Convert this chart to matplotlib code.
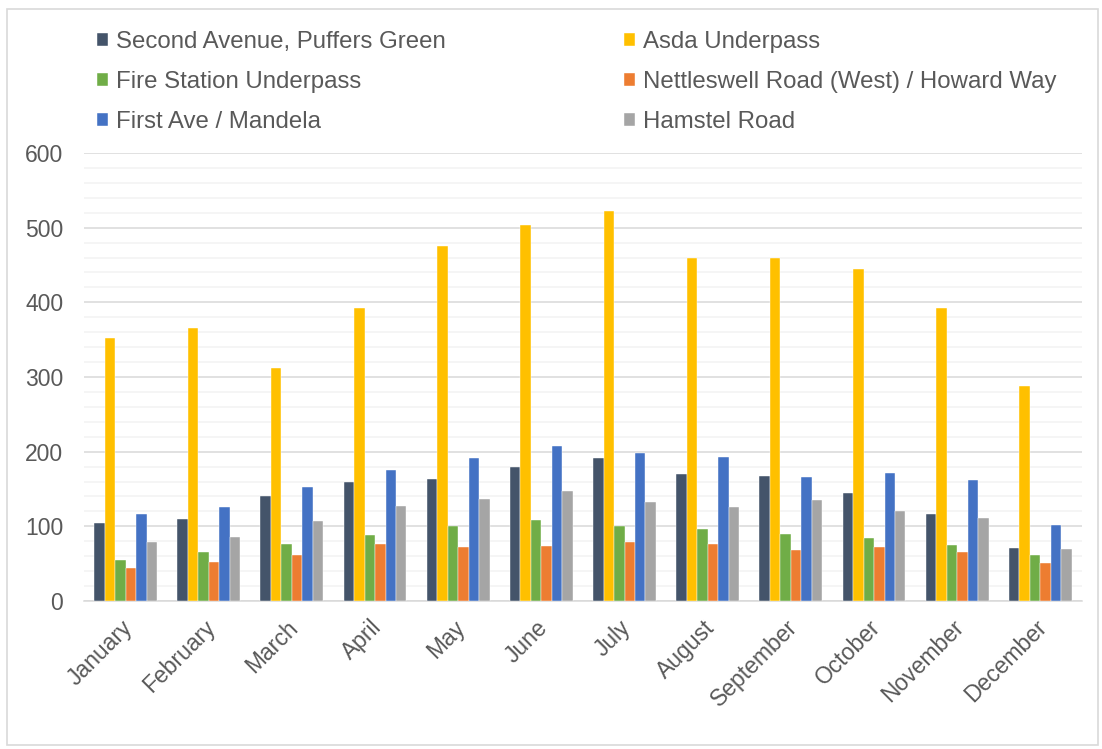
import matplotlib
matplotlib.use('Agg')
import matplotlib.pyplot as plt
from matplotlib.patches import Rectangle
from matplotlib.ticker import MultipleLocator
from matplotlib.transforms import ScaledTranslation
import numpy as np

plt.rcParams['font.family'] = ['Liberation Sans', 'DejaVu Sans']

################################################################################
# data
################################################################################

months = ['January', 'February', 'March', 'April', 'May', 'June', 'July',
          'August', 'September', 'October', 'November', 'December']

series_names = ['Second Avenue, Puffers Green', 'Asda Underpass',
                'Fire Station Underpass', 'Nettleswell Road (West) / Howard Way',
                'First Ave / Mandela', 'Hamstel Road']

second_avenue = [105, 110, 140, 160, 164, 179, 191, 170, 167, 145, 117, 71]
asda_underpass = [352, 365, 312, 392, 476, 504, 523, 460, 460, 444, 392, 288]
fire_station = [55, 66, 76, 89, 101, 108, 100, 96, 90, 85, 75, 61]
nettleswell = [44, 52, 61, 77, 72, 74, 79, 76, 68, 72, 66, 51]
first_ave = [117, 126, 153, 176, 191, 208, 198, 193, 166, 172, 162, 102]
hamstel = [79, 86, 107, 127, 136, 147, 132, 126, 135, 121, 111, 69]

colors = ['#44546A', '#FFC000', '#70AD47', '#ED7D31', '#4472C4', '#A5A5A5']

################################################################################

all_series = [second_avenue, asda_underpass, fire_station, nettleswell, first_ave, hamstel]
text_col = '#595959'

fig = plt.figure(figsize=(11.02, 7.49), dpi=100)
ax = fig.add_axes([0.0762, 0.1976, 0.9056, 0.5981])

x = np.arange(len(months))
n = len(all_series)
bw = 0.126
handles = []
for i, vals in enumerate(all_series):
    offs = (i - (n - 1) / 2) * bw
    b = ax.bar(x + offs, vals, bw, color=colors[i], label=series_names[i], zorder=3,
               edgecolor='white', linewidth=0.3)
    handles.append(b)

ax.set_xlim(-0.5, len(months) - 0.5)
ax.set_ylim(0, 600)
ax.yaxis.set_major_locator(MultipleLocator(100))
ax.yaxis.set_minor_locator(MultipleLocator(20))
ax.grid(which='major', axis='y', color='#D9D9D9', linewidth=1.1, zorder=0)
ax.grid(which='minor', axis='y', color='#F2F2F2', linewidth=1.1, zorder=0)
ax.tick_params(axis='both', which='both', length=0, labelsize=16.5, colors=text_col)
ax.tick_params(axis='y', pad=15)
ax.set_xticks(x)
ax.set_xticklabels(months, rotation=45, ha='right', rotation_mode='anchor')
shift = ScaledTranslation(-5 / 100, -10 / 100, fig.dpi_scale_trans)
for lab in ax.get_xticklabels():
    lab.set_transform(lab.get_transform() + shift)
for s in ['top', 'right', 'left']:
    ax.spines[s].set_visible(False)
ax.spines['bottom'].set_color('#D9D9D9')
ax.spines['bottom'].set_linewidth(1.1)

# legend reads row by row, matplotlib fills column by column
order = [0, 2, 4, 1, 3, 5]
leg = fig.legend([handles[k] for k in order], [series_names[k] for k in order],
                 ncol=2, loc='upper left', bbox_to_anchor=(0.0682, 0.987),
                 frameon=False, fontsize=17.3, handlelength=0.45, handleheight=0.45,
                 handletextpad=0.35, columnspacing=7.42, labelspacing=0.75,
                 labelcolor=text_col)

# chart border
fig.patches.append(Rectangle((0.006, 0.005), 0.99, 0.983, transform=fig.transFigure,
                             fill=False, edgecolor='#D9D9D9', linewidth=1.2))

plt.savefig('out.png', dpi=100)
